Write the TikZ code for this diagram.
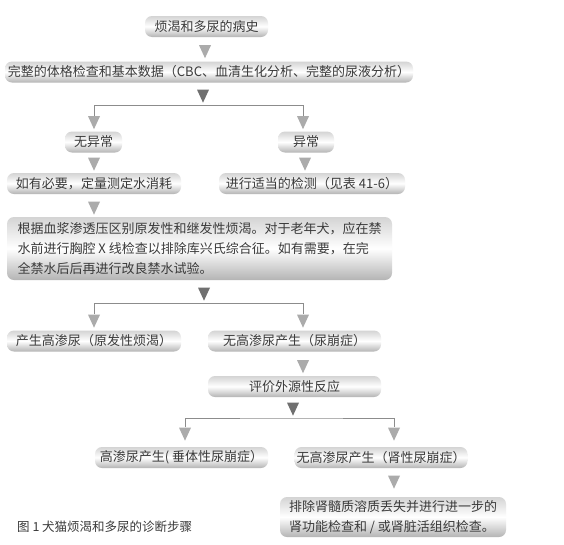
\documentclass[tikz,border=0pt]{standalone}
\usepackage{fontspec}
\setmainfont{Noto Sans CJK SC}
\usepackage{xcolor}
\usetikzlibrary{shapes.geometric,calc}
\definecolor{ink}{HTML}{3A3A3A}
\definecolor{trilight}{HTML}{ABABAB}
\definecolor{tridark}{HTML}{707070}
\definecolor{boxtop}{HTML}{D4D4D4}
\definecolor{boxbot}{HTML}{B4B4B4}
\definecolor{wire}{HTML}{8C8C8C}
\tikzset{
  flowbox/.style={rectangle, rounded corners=7pt, draw=none, top color=boxtop, bottom color=boxbot, middle color=white, text=ink, align=center, minimum height=21pt, inner sep=2pt, font=\fontsize{13}{20}\selectfont},
  notebox/.style={flowbox, align=left, inner xsep=9pt},
  tri/.style={isosceles triangle, isosceles triangle stretches, shape border rotate=-90, fill=trilight, draw=none, minimum width=12pt, minimum height=13pt, inner sep=0pt},
  trik/.style={tri, fill=tridark},
  branch/.style={draw=wire, line width=0.9pt}
}
\begin{document}
\begin{tikzpicture}[x=1pt, y=1pt]
  \useasboundingbox[fill=white] (0,0) rectangle (564,-544);
  % boxes
  \node[flowbox, minimum width=123pt] (hist) at (206.5,-26.5) {烦渴和多尿的病史};
  \node[flowbox, minimum width=408pt] (exam) at (209,-72) {完整的体格检查和基本数据（CBC、血清生化分析、完整的尿液分析）};
  \node[flowbox, minimum width=57pt] (normal) at (93.5,-142) {无异常};
  \node[flowbox, minimum width=56pt] (abnormal) at (306,-142) {异常};
  \node[flowbox, minimum width=174pt] (intake) at (94,-183.5) {如有必要，定量测定水消耗};
  \node[flowbox, minimum width=186pt] (tests) at (312,-183.5) {进行适当的检测（见表 41-6）};
  \node[notebox, minimum width=385pt, minimum height=63pt] (osmo) at (199.5,-248.5) {根据血浆渗透压区别原发性和继发性烦渴。对于老年犬，应在禁\\水前进行胸腔 X 线检查以排除库兴氏综合征。如有需要，在完\\全禁水后后再进行改良禁水试验。};
  \node[flowbox, minimum width=174pt] (primary) at (94,-341) {产生高渗尿（原发性烦渴）};
  \node[flowbox, minimum width=173pt] (di) at (294.5,-341) {无高渗尿产生（尿崩症）};
  \node[flowbox, minimum width=173pt] (adh) at (294.5,-386.5) {评价外源性反应};
  \node[flowbox, minimum width=173pt] (central) at (181.5,-457.5) {高渗尿产生( 垂体性尿崩症）};
  \node[flowbox, minimum width=172pt] (nephro) at (381,-457.5) {无高渗尿产生（肾性尿崩症）};
  \node[notebox, minimum width=226pt, minimum height=40pt] (renal) at (393,-517) {排除肾髓质溶质丢失并进行进一步的\\肾功能检查和 / 或肾脏活组织检查。};
  \node[anchor=west, text=ink, inner sep=0pt, font=\fontsize{12.5}{15}\selectfont] (caption) at (17,-527) {图 1 犬猫烦渴和多尿的诊断步骤};
  % arrows
  \node[tri] (t1) at (205,-49) {};
  \node[trik] (t2) at (203,-93.5) {};
  \node[tri] (t3) at (94,-120) {};
  \node[tri] (t4) at (303,-120) {};
  \node[tri] (t5) at (94,-161.5) {};
  \node[tri] (t6) at (305,-161.5) {};
  \node[tri] (t7) at (94,-205.5) {};
  \node[trik] (t8) at (204,-291.5) {};
  \node[tri] (t9) at (94,-318.5) {};
  \node[tri] (t10) at (303,-318.5) {};
  \node[tri] (t11) at (303,-364) {};
  \node[trik] (t12) at (293,-406.5) {};
  \node[tri] (t13) at (185,-431.5) {};
  \node[tri] (t14) at (394,-431.5) {};
  \node[tri] (t15) at (394,-479.5) {};
  % branches
  \coordinate (j1) at (203,-105.5);
  \coordinate (j2) at (204,-303.5);
  \coordinate (j3) at (293,-418);
  \draw[branch] (t3) |- (j1) -| (t4);
  \draw[branch] (t9) |- (j2) -| (t10);
  \draw[branch] (t13) |- (j3) -| (t14);
\end{tikzpicture}
\end{document}
